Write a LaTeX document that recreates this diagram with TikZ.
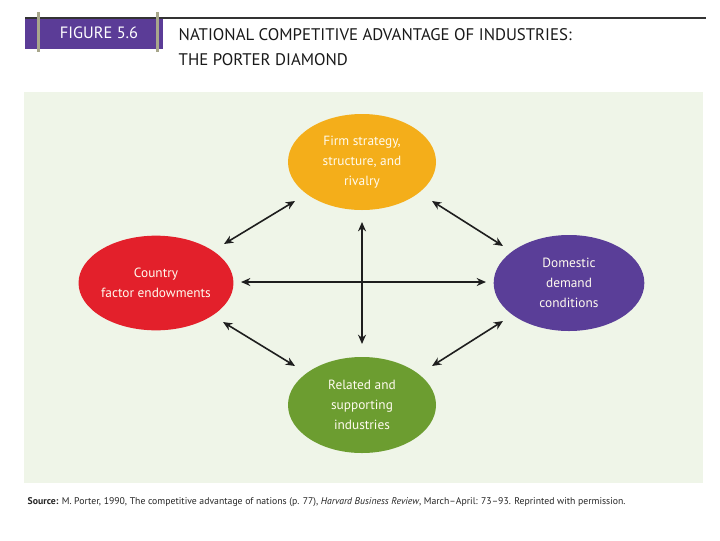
\documentclass[tikz,border=0pt]{standalone}
\usepackage{fontspec}
\setmainfont{PT Sans}
\usetikzlibrary{shapes.geometric,arrows.meta}
\definecolor{panel}{HTML}{EFF5E8}
\definecolor{figpurple}{HTML}{5B3C97}
\definecolor{bargray}{HTML}{A8A78C}
\definecolor{corange}{HTML}{F4AE1A}
\definecolor{cred}{HTML}{E3202B}
\definecolor{cpurple}{HTML}{5A3E98}
\definecolor{cgreen}{HTML}{6C9D30}
\definecolor{arrowc}{HTML}{1E1E1E}
\definecolor{ovaltext}{HTML}{FFFBEF}
\tikzset{
  oval/.style={ellipse, minimum width=111pt, minimum height=72pt, inner sep=0pt,
    text=ovaltext, align=center, font=\fontsize{10}{15}\selectfont},
  dbl/.style={{Stealth[length=7pt,width=6pt]}-{Stealth[length=7pt,width=6pt]}, line width=1.2pt, draw=arrowc},
}
\begin{document}
\begin{tikzpicture}[x=0.75pt,y=-0.75pt]
\useasboundingbox (0,0) rectangle (720,540);
\fill[white] (0,0) rectangle (720,540);
% header
\draw[line width=0.8pt, black!80] (25,18) -- (706,18);
\node[fill=figpurple, minimum width=103.5pt, minimum height=22pt, inner sep=0pt, anchor=north west] (figbox) at (25,19) {};
\node[text=white, font=\fontsize{12.3}{14}\selectfont] (figlabel) at (99,33) {FIGURE 5.6};
\fill[bargray] (36.5,12) rectangle (40,52);
\fill[bargray] (155.5,12) rectangle (159,52);
\node[anchor=west, align=left, font=\fontsize{12.6}{18.5}\selectfont, text=black!90] (title) at (174,47)
  {NATIONAL COMPETITIVE ADVANTAGE OF INDUSTRIES:\\THE PORTER DIAMOND};
% panel
\fill[panel] (24,92) rectangle (703,483);
% ellipses
\node[oval, fill=corange] (top) at (362,162) {Firm strategy,\\structure, and\\rivalry};
\node[oval, fill=cred, minimum width=114pt, minimum height=71pt] (left) at (156,283) {Country\\factor endowments};
\node[oval, fill=cpurple, minimum width=113pt] (right) at (569,283) {Domestic\\demand\\conditions};
\node[oval, fill=cgreen] (bottom) at (362,405) {Related and\\supporting\\industries};
% arrow endpoints
\coordinate (tl1) at (224,244);
\coordinate (tl2) at (295,201);
\coordinate (tr1) at (432,201);
\coordinate (tr2) at (503,246);
\coordinate (bl1) at (223,322);
\coordinate (bl2) at (295,366);
\coordinate (br1) at (503,321);
\coordinate (br2) at (432,366);
\coordinate (h1) at (241,282);
\coordinate (h2) at (486,282);
\coordinate (v1) at (362,222);
\coordinate (v2) at (362,344);
\draw[dbl] (tl1) -- (tl2);
\draw[dbl] (tr1) -- (tr2);
\draw[dbl] (bl1) -- (bl2);
\draw[dbl] (br1) -- (br2);
\draw[dbl] (h1) -- (h2);
\draw[dbl] (v1) -- (v2);
% source
\node[anchor=west, font=\fontsize{7.3}{9}\selectfont, text=black!85] (source) at (23,502)
  {\textbf{Source:} M. Porter, 1990, The competitive advantage of nations (p. 77), \textit{Harvard Business Review}, March--April: 73--93. Reprinted with permission.};
\end{tikzpicture}
\end{document}
